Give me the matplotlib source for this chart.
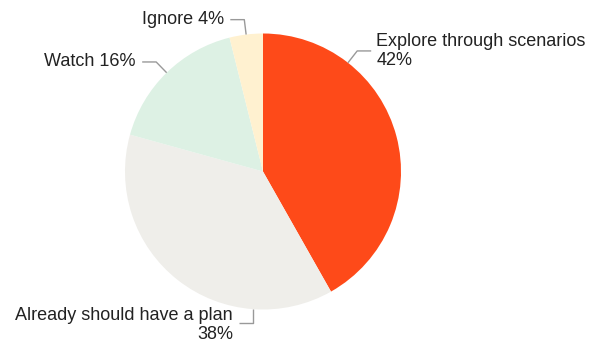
import numpy as np
import matplotlib
matplotlib.use("Agg")
import matplotlib.pyplot as plt

labels = ["Explore through scenarios", "Already should have a plan", "Watch", "Ignore"]
values = [41.8, 37.5, 16.8, 3.9]          # slice sizes as drawn
pct_labels = ["42%", "38%", "16%", "4%"]  # percentages as printed
colors = ["#FE4A19", "#EFEEEA", "#DDF1E4", "#FFF1D0"]

label_text = [f"{labels[0]}\n{pct_labels[0]}", f"{labels[1]}\n{pct_labels[1]}",
              f"{labels[2]} {pct_labels[2]}", f"{labels[3]} {pct_labels[3]}"]
anchor_angle = [52.0, -94.0, None, None]

W, H = 590, 347
fig = plt.figure(figsize=(W / 100, H / 100), dpi=100)
ax = fig.add_axes([0, 0, 1, 1])

cx, cy, R = 263, H - 171.5, 138
wedges, _ = ax.pie(values, colors=colors, startangle=90, counterclock=False,
                   center=(cx, cy), radius=R, frame=True,
                   wedgeprops=dict(linewidth=0))
ax.set_xlim(0, W)
ax.set_ylim(0, H)
ax.set_aspect("equal")
ax.axis("off")

font = dict(family="Liberation Sans", fontsize=13, color="#222222")
for i, w in enumerate(wedges):
    mid = (w.theta1 + w.theta2) / 2
    ang = anchor_angle[i] if anchor_angle[i] is not None else mid
    a = np.deg2rad(ang)
    x0, y0 = cx + R * np.cos(a), cy + R * np.sin(a)
    if i == 1:
        x1, y1 = x0, cy + 152 * np.sin(a)
    else:
        x1, y1 = cx + 153 * np.cos(a), cy + 153 * np.sin(a)
    side = 1 if (i == 0) else -1
    x2 = x1 + side * 14
    ax.plot([x0, x1, x2], [y0, y1, y1], color="#999999", lw=1, solid_capstyle="butt")
    ty = y1
    if i == 1:
        ty = y1 - 2
    gap = 5 if side > 0 else 6.5
    ax.text(x2 + side * gap, ty, label_text[i], ha="left" if side > 0 else "right",
            va="center", multialignment="left" if side > 0 else "right",
            linespacing=1.12, **font)

fig.savefig("out.png", dpi=100)
